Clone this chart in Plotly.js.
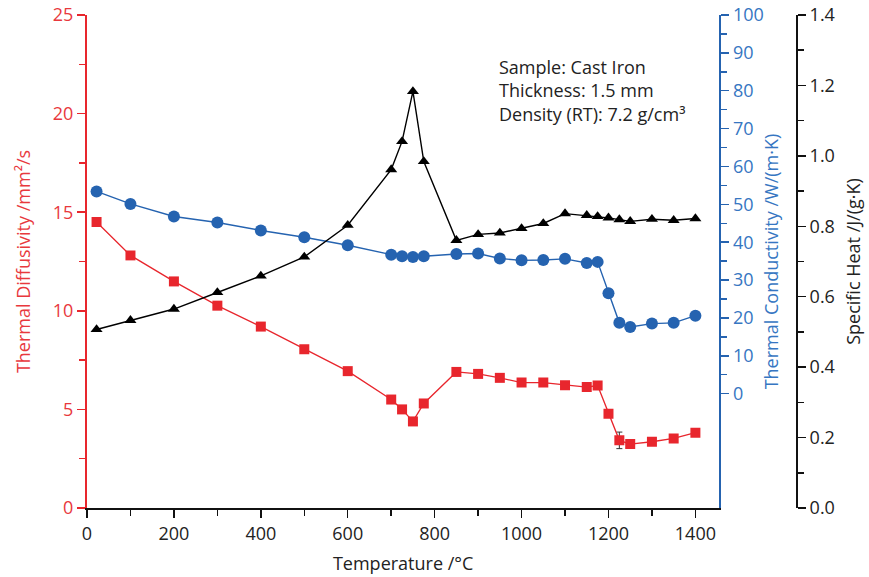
<!DOCTYPE html>
<html>
<head>
<meta charset="utf-8">
<script src="https://cdn.plot.ly/plotly-3.0.1.min.js"></script>
<style>html,body{margin:0;padding:0;background:#fff;}#chart{width:869px;height:577px;}</style>
</head>
<body>
<div id="chart"></div>
<script>
// Temperature /°C
const temps = [22,100,200,300,400,500,600,700,725,750,775,850,900,950,1000,1050,1100,1150,1175,1200,1225,1250,1300,1350,1400];
// Thermal diffusivity /mm²/s
const diffusivity = [14.5,12.81,11.49,10.26,9.2,8.05,6.94,5.5,5.0,4.39,5.3,6.9,6.8,6.6,6.36,6.36,6.23,6.13,6.21,4.78,3.43,3.24,3.36,3.53,3.82];
// Thermal conductivity /W/(m·K)
const conductivity = [53.4,50.1,46.8,45.2,43.1,41.3,39.2,36.7,36.3,36.1,36.3,36.9,37.0,35.7,35.2,35.3,35.6,34.5,34.8,26.5,18.7,17.6,18.5,18.7,20.6];
// Specific heat /J/(g·K)
const specificHeat = [0.507,0.533,0.565,0.612,0.659,0.713,0.803,0.961,1.041,1.183,0.984,0.760,0.777,0.781,0.794,0.808,0.836,0.831,0.828,0.824,0.819,0.814,0.820,0.817,0.822];
// Error bar on diffusivity
const errTemp = [1225];
const errDiff = [3.43];
const errSize = [0.42];

const xTicks = [0,200,400,600,800,1000,1200,1400];
const condTicks = [0,10,20,30,40,50,60,70,80,90,100];
const condMinor = [5,15,25,35,45,55,65,75,85,95];

const RED = '#e8262d', RED_T = '#e8383d';
const BLUE = '#2563b0', BLUE_T = '#3676c2';
const TXT = '#222222';
const FONT = 'Open Sans, Noto Sans, sans-serif';
const FS = 18;

const traces = [
  {x: errTemp, y: errDiff, xaxis:'x', yaxis:'y', mode:'markers', marker:{opacity:0, size:1},
   error_y:{type:'data', array:errSize, visible:true, color:'#333', thickness:1, width:3},
   showlegend:false, hoverinfo:'skip'},
  {x: temps, y: diffusivity, xaxis:'x', yaxis:'y', mode:'lines+markers',
   line:{color:RED, width:1.3}, marker:{symbol:'square', size:10, color:RED}, showlegend:false},
  {x: temps, y: conductivity, xaxis:'x', yaxis:'y2', mode:'lines+markers',
   line:{color:BLUE, width:1.4}, marker:{symbol:'circle', size:12, color:BLUE}, showlegend:false},
  {x: temps, y: specificHeat, xaxis:'x', yaxis:'y3', mode:'lines+markers',
   line:{color:'#000', width:1.4}, marker:{symbol:'triangle-up', size:10.5, color:'#000'}, showlegend:false}
];

const W = 869, L = 87, R = 40;
const pw = W - L - R;
const xEnd = (719.3 - L) / pw;
const blackPos = (797 - L) / pw;

const layout = {
  width: 869, height: 577,
  margin: {l: L, r: R, t: 15, b: 69},
  paper_bgcolor:'#fff', plot_bgcolor:'#fff',
  font: {family: FONT, size: FS, color: TXT},
  showlegend: false,
  xaxis: {
    domain: [0, xEnd], range: [0, 1455], tickvals: xTicks, ticktext: xTicks.map(String),
    showgrid:false, zeroline:false, showline:true, linecolor:'#111', linewidth:2,
    ticks:'outside', ticklen:8, tickwidth:1.5, tickcolor:'#111',
    minor:{tickvals:[100,300,500,700,900,1100,1300], ticks:'outside', ticklen:6, tickwidth:1.5, tickcolor:'#111', showgrid:false},
    tickfont:{size:FS, color:TXT},
    title:{text:'Temperature /°C', font:{size:FS, color:TXT}, standoff: 14}
  },
  yaxis: {
    range:[0,25], tickvals:[0,5,10,15,20,25], showgrid:false, zeroline:false,
    showline:true, linecolor:RED, linewidth:2, ticks:'outside', ticklen:8, tickwidth:1.5, tickcolor:RED,
    minor:{tickvals:[2.5,7.5,12.5,17.5,22.5], ticks:'outside', ticklen:6, tickwidth:1.5, tickcolor:RED, showgrid:false},
    tickfont:{size:FS, color:RED_T},
    title:{text:'Thermal Diffusivity /mm²/s', font:{size:FS, color:RED_T}, standoff: 18}
  },
  yaxis2: {
    overlaying:'y', side:'right', anchor:'x', range:[-30.2,100], tickvals:condTicks, ticktext:condTicks.map(String),
    showgrid:false, zeroline:false, showline:true, linecolor:BLUE, linewidth:2,
    ticks:'outside', ticklen:8, tickwidth:1.5, tickcolor:BLUE,
    minor:{tickvals:condMinor, ticks:'outside', ticklen:6, tickwidth:1.5, tickcolor:BLUE, showgrid:false},
    tickfont:{size:FS, color:BLUE_T},
    title:{text:'Thermal Conductivity /W/(m·K)', font:{size:FS, color:BLUE_T}, standoff: 3}
  },
  yaxis3: {
    overlaying:'y', side:'right', anchor:'free', position: blackPos, range:[0,1.4],
    tickvals:[0,0.2,0.4,0.6,0.8,1.0,1.2,1.4], ticktext:['0.0','0.2','0.4','0.6','0.8','1.0','1.2','1.4'],
    showgrid:false, zeroline:false, showline:true, linecolor:'#111', linewidth:2,
    ticks:'outside', ticklen:8, tickwidth:1.5, tickcolor:'#111',
    minor:{tickvals:[0.1,0.3,0.5,0.7,0.9,1.1,1.3], ticks:'outside', ticklen:6, tickwidth:1.5, tickcolor:'#111', showgrid:false},
    tickfont:{size:FS, color:TXT},
    title:{text:'Specific Heat /J/(g·K)', font:{size:FS, color:TXT}, standoff: 12}
  },
  annotations: [{
    xref:'paper', yref:'paper', x:(497 - L)/pw, y:(508-53)/493, xanchor:'left', yanchor:'top', align:'left',
    showarrow:false, text:'Sample: Cast Iron<br>Thickness: 1.5 mm<br>Density (RT): 7.2 g/cm³',
    font:{size:FS, color:TXT, family:FONT}
  }]
};

Plotly.newPlot('chart', traces, layout, {staticPlot:true, displayModeBar:false});
</script>
</body>
</html>
